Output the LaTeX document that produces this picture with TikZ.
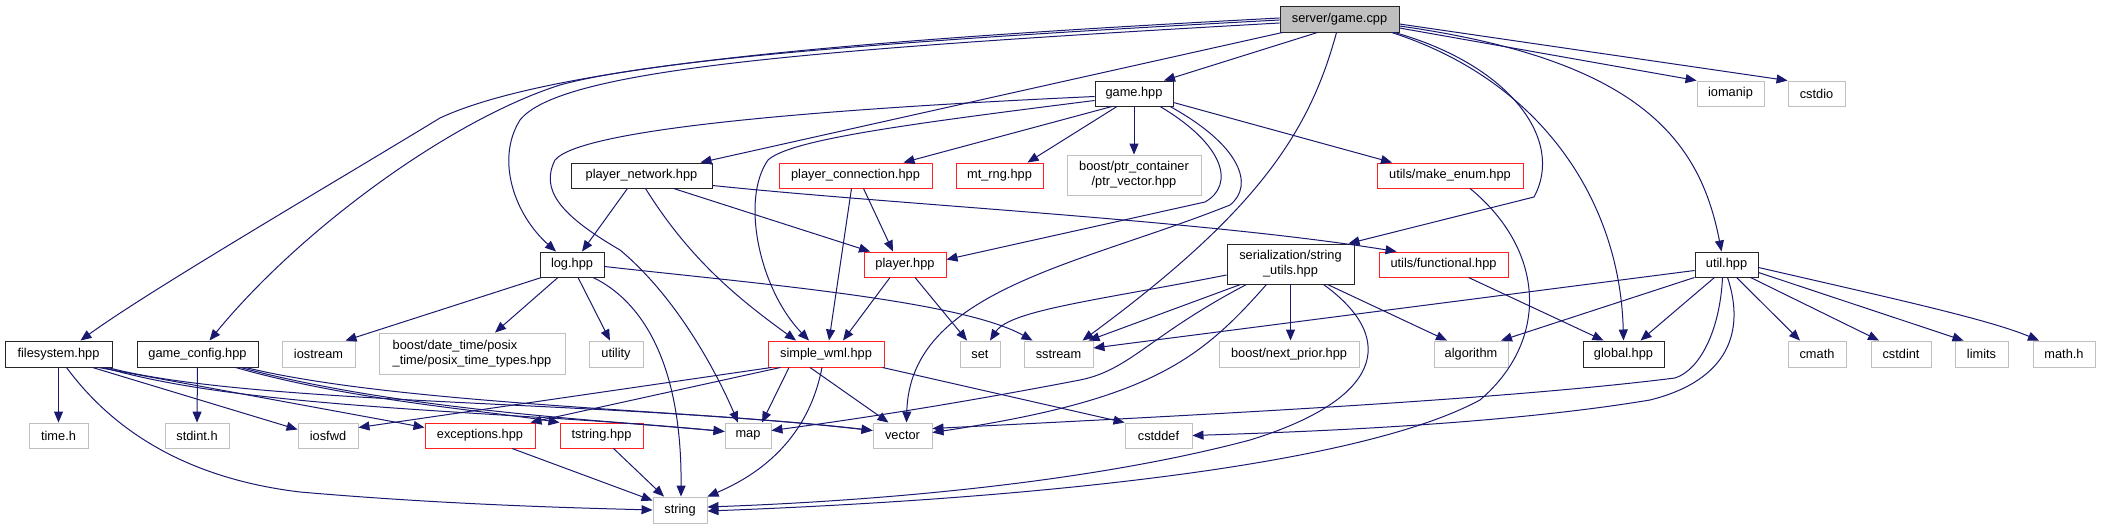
\documentclass[tikz,border=0pt]{standalone}
\usepackage{fontspec}
\setmainfont{Liberation Sans}
\usetikzlibrary{arrows.meta}
\definecolor{eblue}{HTML}{191970}
\definecolor{gline}{HTML}{BFBFBF}
\definecolor{gfill}{HTML}{BFBFBF}
\definecolor{tred}{HTML}{FF2020}
\begin{document}
\begin{tikzpicture}[x=1pt,y=-1pt,
  box/.style={draw, fill=white, minimum height=25pt, inner sep=0pt, line width=0.9pt,
    font=\fontsize{12.8pt}{15pt}\selectfont, align=center},
  blk/.style={box, draw=black!85, line width=0.95pt},
  ext/.style={box, draw=gline},
  trunc/.style={box, draw=tred, line width=0.95pt},
  edge/.style={draw=eblue, line width=1pt, -{Triangle[length=11pt,width=9pt]}}]
\useasboundingbox (0,0) rectangle (2106,529);
\fill[white] (0,0) rectangle (2106,529);
% row 0
\node[blk, fill=gfill, minimum width=119pt, minimum height=26pt] (G) at (1339.5,19) {server/game.cpp};
% row 1
\node[blk, minimum width=78pt] (GH) at (1134,93.5) {game.hpp};
\node[ext, minimum width=67pt] (iomanip) at (1730.5,93.5) {iomanip};
\node[ext, minimum width=57pt] (cstdio) at (1816.5,93.5) {cstdio};
% row 2
\node[blk, minimum width=141pt] (PN) at (641.5,175.5) {player\_network.hpp};
\node[trunc, minimum width=153pt] (PC) at (855.5,175.5) {player\_connection.hpp};
\node[trunc, minimum width=87pt] (MT) at (999.5,175.5) {mt\_rng.hpp};
\node[ext, minimum width=134pt, minimum height=40pt] (PV) at (1134,175) {boost/ptr\_container\\/ptr\_vector.hpp};
\node[trunc, minimum width=146pt] (ME) at (1450,175.5) {utils/make\_enum.hpp};
% row 3
\node[blk, minimum width=64pt] (L) at (572,264.5) {log.hpp};
\node[trunc, minimum width=82pt] (P) at (905,264.5) {player.hpp};
\node[blk, minimum width=127pt, minimum height=40pt] (SU) at (1290.5,264) {serialization/string\\\_utils.hpp};
\node[trunc, minimum width=129pt] (UF) at (1443.5,264.5) {utils/functional.hpp};
\node[blk, minimum width=63pt] (U) at (1726.5,264.5) {util.hpp};
% row 4
\node[blk, minimum width=107pt, minimum height=26pt] (FS) at (58.5,354) {filesystem.hpp};
\node[blk, minimum width=121pt, minimum height=26pt] (GC) at (197.5,354) {game\_config.hpp};
\node[ext, minimum width=73pt, minimum height=26pt] (iostream) at (318.5,354) {iostream};
\node[ext, minimum width=186pt, minimum height=41pt, align=left] (DT) at (472,353.5) {boost/date\_time/posix\\\_time/posix\_time\_types.hpp};
\node[ext, minimum width=54pt, minimum height=26pt] (utility) at (616,354) {utility};
\node[trunc, minimum width=116pt, minimum height=26pt] (SW) at (826,354) {simple\_wml.hpp};
\node[ext, minimum width=40pt, minimum height=26pt] (set) at (980,354) {set};
\node[ext, minimum width=69pt, minimum height=26pt] (sstream) at (1058.5,354) {sstream};
\node[ext, minimum width=140pt, minimum height=26pt] (NP) at (1289,354) {boost/next\_prior.hpp};
\node[ext, minimum width=74pt, minimum height=26pt] (algorithm) at (1471,354) {algorithm};
\node[blk, minimum width=81pt, minimum height=26pt] (global) at (1623.5,354) {global.hpp};
\node[ext, minimum width=58pt, minimum height=26pt] (cmath) at (1817,354) {cmath};
\node[ext, minimum width=60pt, minimum height=26pt] (cstdint) at (1901,354) {cstdint};
\node[ext, minimum width=53pt, minimum height=26pt] (limits) at (1981.5,354) {limits};
\node[ext, minimum width=62pt, minimum height=26pt] (mathh) at (2064,354) {math.h};
% row 5
\node[ext, minimum width=59pt] (timeh) at (58.5,435.5) {time.h};
\node[ext, minimum width=64pt] (stdinth) at (197,435.5) {stdint.h};
\node[ext, minimum width=60pt] (iosfwd) at (328,435.5) {iosfwd};
\node[trunc, minimum width=110pt] (EX) at (480,435.5) {exceptions.hpp};
\node[trunc, minimum width=83pt] (TS) at (601.5,435.5) {tstring.hpp};
\node[ext, minimum width=46pt] (map) at (748,435.5) {map};
\node[ext, minimum width=59pt] (vector) at (902.5,435.5) {vector};
\node[ext, minimum width=67pt] (cstddef) at (1158.5,435.5) {cstddef};
% row 6
\node[ext, minimum width=54pt, minimum height=26pt] (string) at (680,510) {string};

% ---- edges from server/game.cpp
\draw[edge] ([xshift=-22pt]G.south) -- ([xshift=30pt]GH.north);
\draw[edge] ([xshift=3pt]G.south west) -- ([xshift=-12pt]PN.north east);
\draw[edge] ([yshift=-4pt]G.west) .. controls (800,50) and (560,70) .. (520,120) .. controls (495,160) and (515,215) .. ([xshift=-16pt]L.north);
\draw[edge] ([yshift=1pt]G.west) .. controls (900,38) and (560,62) .. (440,118) .. controls (330,185) and (150,290) .. ([xshift=22pt]FS.north);
\draw[edge] ([yshift=-1pt]G.west) .. controls (900,40) and (650,60) .. (560,85) .. controls (450,120) and (300,230) .. ([xshift=12pt]GC.north);
\draw[edge] ([xshift=-5pt]G.south east) .. controls (1510,65) and (1565,140) .. (1534,197) -- ([xshift=-6pt]SU.north east);
\draw[edge] ([xshift=-3pt]G.south) .. controls (1310,130) and (1260,210) .. ([xshift=24pt]sstream.north);
\draw[edge] ([xshift=-8pt]G.south east) .. controls (1540,80) and (1620,200) .. (global.north);
\draw[edge] ([yshift=-7pt]G.east) .. controls (1640,60) and (1700,140) .. ([xshift=-5pt]U.north);
\draw[edge] ([yshift=-9pt]G.east) -- (iomanip.north west);
\draw[edge] ([yshift=-5pt]G.east) -- (cstdio.north west);

% ---- game.hpp
\draw[edge] ([yshift=-3pt]GH.west) .. controls (800,110) and (580,130) .. (555,160) .. controls (540,190) and (560,215) .. (620,250) .. controls (680,300) and (720,380) .. ([xshift=-10pt]map.north);
\draw[edge] ([yshift=-7pt]GH.west) .. controls (900,125) and (790,140) .. (768,160) .. controls (740,200) and (760,290) .. ([xshift=-17pt]SW.north);
\draw[edge] ([xshift=-22pt]GH.south) -- ([xshift=48pt]PC.north);
\draw[edge] ([xshift=-17pt]GH.south) -- ([xshift=28pt]MT.north);
\draw[edge] (GH.south) -- (PV.north);
\draw[edge] ([yshift=-9pt]GH.east) -- ([xshift=-58pt]ME.north);
\draw[edge] ([xshift=26pt]GH.south) .. controls (1225,145) and (1235,185) .. (1205,202) -- ([yshift=5pt]P.east);
\draw[edge] ([xshift=36pt]GH.south) .. controls (1240,145) and (1255,185) .. (1230,205) .. controls (1080,265) and (910,290) .. ([xshift=4pt]vector.north);

% ---- player_network.hpp
\draw[edge] ([xshift=-14pt]PN.south) -- ([xshift=10pt]L.north);
\draw[edge] ([xshift=4pt]PN.south) .. controls (690,260) and (740,300) .. ([xshift=-30pt]SW.north);
\draw[edge] ([xshift=32pt]PN.south) -- ([xshift=-35pt]P.north);
\draw[edge] ([yshift=-10pt]PN.east) .. controls (900,205) and (1200,220) .. ([xshift=-47pt]UF.north);

% ---- player_connection.hpp
\draw[edge] ([xshift=8pt]PC.south) -- ([xshift=-12pt]P.north);
\draw[edge] ([xshift=-4pt]PC.south) -- ([xshift=3pt]SW.north);

% ---- player.hpp
\draw[edge] ([xshift=-15pt]P.south) -- ([xshift=17pt]SW.north);
\draw[edge] ([xshift=10pt]P.south) -- ([xshift=-13pt]set.north);

% ---- log.hpp
\draw[edge] ([xshift=2pt]L.south west) -- ([xshift=27pt]iostream.north);
\draw[edge] ([xshift=-14pt]L.south) -- ([xshift=23pt]DT.north);
\draw[edge] ([xshift=6pt]L.south) -- ([xshift=-6pt]utility.north);
\draw[edge] ([xshift=21pt]L.south) .. controls (640,300) and (682,360) .. ([xshift=1pt]string.north);
\draw[edge] ([yshift=-2pt]L.east) .. controls (750,283) and (960,300) .. ([xshift=-26pt]sstream.north);

% ---- serialization/string_utils.hpp
\draw[edge] ([yshift=-11pt]SU.west) .. controls (1100,300) and (1010,310) .. ([xshift=10pt]set.north);
\draw[edge] ([xshift=-50pt]SU.south) -- ([xshift=30pt]sstream.north);
\draw[edge] ([xshift=-44pt]SU.south) .. controls (1150,335) and (1130,370) .. (1080,380) .. controls (950,405) and (850,420) .. ([yshift=5pt]map.east);
\draw[edge] ([xshift=-24pt]SU.south) .. controls (1200,360) and (1150,400) .. ([yshift=3pt]vector.east);
\draw[edge] (SU.south) -- (SU.south |- NP.north);
\draw[edge] ([xshift=37pt]SU.south) -- ([xshift=-24pt]algorithm.north);
\draw[edge] ([xshift=33pt]SU.south) .. controls (1400,340) and (1380,400) .. (1250,440) .. controls (1100,480) and (900,500) .. ([yshift=3pt]string.east);

% ---- utils/make_enum.hpp
\draw[edge] ([xshift=20pt]ME.south) .. controls (1545,250) and (1550,340) .. (1480,400) .. controls (1350,470) and (1000,500) .. ([yshift=-1pt]string.east);

% ---- utils/functional.hpp
\draw[edge] ([xshift=25pt]UF.south) -- ([xshift=-20pt]global.north);

% ---- util.hpp
\draw[edge] ([yshift=-6pt]U.west) -- ([yshift=6pt]sstream.east);
\draw[edge] (U.south west) -- ([xshift=30pt]algorithm.north);
\draw[edge] ([xshift=-12pt]U.south) -- ([xshift=17pt]global.north);
\draw[edge] ([xshift=-4pt]U.south) .. controls (1720,330) and (1700,370) .. (1675,378) .. controls (1500,400) and (1200,415) .. ([yshift=7pt]vector.east);
\draw[edge] ([xshift=1pt]U.south) .. controls (1745,330) and (1730,380) .. (1650,400) .. controls (1500,425) and (1300,432) .. (cstddef.east);
\draw[edge] ([xshift=10pt]U.south) -- ([xshift=-17pt]cmath.north);
\draw[edge] ([xshift=24pt]U.south) -- ([xshift=-22pt]cstdint.north);
\draw[edge] ([yshift=-8pt]U.east) -- ([xshift=-18pt]limits.north);
\draw[edge] ([yshift=-3pt]U.east) .. controls (1900,300) and (1990,320) .. ([xshift=-25pt]mathh.north);

% ---- simple_wml.hpp
\draw[edge] ([xshift=4pt]SW.south west) -- ([yshift=-5pt]iosfwd.north east);
\draw[edge] ([xshift=13pt]SW.south west) -- ([xshift=-5pt]EX.north east);
\draw[edge] ([xshift=-37pt]SW.south) -- ([xshift=14pt]map.north);
\draw[edge] ([xshift=-16pt]SW.south) -- ([xshift=-14pt]vector.north);
\draw[edge] ([xshift=-4pt]SW.south) .. controls (810,430) and (770,470) .. (string.north east);
\draw[edge] ([xshift=-2pt]SW.south east) -- (cstddef.north west);

% ---- filesystem.hpp
\draw[edge] (FS.south) -- (timeh.north);
\draw[edge] ([xshift=8pt]FS.south) .. controls (120,440) and (200,480) .. (300,492) .. controls (450,505) and (580,508) .. (string.west);
\draw[edge] ([xshift=-20pt]FS.south east) -- ([yshift=6pt]iosfwd.west);
\draw[edge] ([xshift=-14pt]FS.south east) -- ([yshift=8pt]EX.west);
\draw[edge] ([xshift=-9pt]FS.south east) .. controls (250,410) and (500,410) .. ([yshift=4pt]map.west);
\draw[edge] ([xshift=-5pt]FS.south east) .. controls (250,405) and (600,400) .. ([yshift=5pt]vector.west);

% ---- game_config.hpp
\draw[edge] (GC.south) -- (stdinth.north);
\draw[edge] ([xshift=-23pt]GC.south east) .. controls (350,400) and (480,410) .. (TS.north west);
\draw[edge] ([xshift=-18pt]GC.south east) .. controls (400,410) and (600,420) .. ([yshift=4pt]map.west);
\draw[edge] ([xshift=-13pt]GC.south east) .. controls (400,405) and (700,410) .. ([yshift=5pt]vector.west);

% ---- exceptions / tstring
\draw[edge] ([xshift=32pt]EX.south) -- ([yshift=-4pt]string.north west);
\draw[edge] ([xshift=12pt]TS.south) -- ([xshift=-16pt]string.north);
\end{tikzpicture}
\end{document}
